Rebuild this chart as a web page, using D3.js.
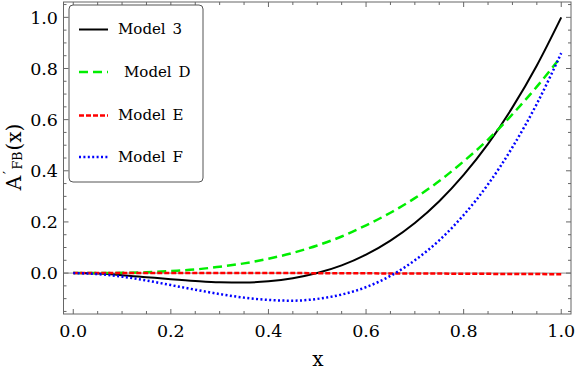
<!DOCTYPE html>
<html lang="en">
<head>
  <meta charset="UTF-8" />
  <title>A'FB(x) models</title>
  <script src="https://d3js.org/d3.v7.min.js"></script>
  <style>
    body { margin: 0; background: #fff; }
    svg text { font-family: "DejaVu Serif", serif; fill: #000; }
    .frame { fill: none; stroke: #666; stroke-width: 1; }
    .tick { stroke: #666; stroke-width: 1; }
    .curve { fill: none; }
  </style>
</head>
<body>
  <svg width="576" height="372"></svg>

  <script>
    const xs     = [0, 0.05, 0.1, 0.15, 0.2, 0.25, 0.3, 0.35, 0.4, 0.45, 0.5, 0.55, 0.6, 0.65, 0.7, 0.75, 0.8, 0.85, 0.9, 0.95, 1.0];
    const model3 = [0, -0.002, -0.008, -0.016, -0.024, -0.031, -0.036, -0.037, -0.032, -0.020, 0, 0.030, 0.072, 0.127, 0.196, 0.281, 0.384, 0.505, 0.648, 0.812, 1.0];
    const modelD = [0, 0.0001, 0.001, 0.003, 0.008, 0.014, 0.025, 0.038, 0.056, 0.079, 0.108, 0.143, 0.187, 0.236, 0.293, 0.360, 0.437, 0.522, 0.621, 0.729, 0.847];
    const modelE = [0, 0, 0, 0, 0, 0, 0, 0, 0, 0, -0.0005, -0.001, -0.001, -0.0015, -0.002, -0.002, -0.003, -0.003, -0.004, -0.004, -0.005];
    const modelF = [0, -0.004, -0.014, -0.029, -0.047, -0.065, -0.082, -0.096, -0.105, -0.108, -0.101, -0.084, -0.055, -0.011, 0.050, 0.128, 0.227, 0.347, 0.492, 0.662, 0.860];

    const xTicks = [0, 0.2, 0.4, 0.6, 0.8, 1.0];
    const yTicks = [0, 0.2, 0.4, 0.6, 0.8, 1.0];

    const series = [
      { name: "Model 3", values: model3, color: "#000000", width: 2,   dash: null },
      { name: "Model D", values: modelD, color: "#00ee00", width: 2.5, dash: "9,5" },
      { name: "Model E", values: modelE, color: "#ff0000", width: 2.5, dash: "5,2" },
      { name: "Model F", values: modelF, color: "#0000ff", width: 2.5, dash: "2,2.4" }
    ];

    const svg = d3.select("svg");
    const plot = { left: 63.5, right: 571, top: 2, bottom: 314 };

    const x = d3.scaleLinear().domain([-0.02, 1.02]).range([plot.left, plot.right]);
    const y = d3.scaleLinear().domain([-0.16, 1.06]).range([plot.bottom, plot.top]);

    // zero line
    svg.append("line")
      .attr("x1", plot.left).attr("x2", plot.right)
      .attr("y1", y(0)).attr("y2", y(0))
      .attr("stroke", "#888").attr("stroke-width", 1);

    // ticks on all four sides
    const xMinor = d3.range(0, 1.0001, 0.05);
    const yMinor = d3.range(-0.15, 1.0501, 0.05);
    const isMajor = v => Math.abs(v * 5 - Math.round(v * 5)) < 1e-6;
    const ticks = svg.append("g");
    xMinor.forEach(v => {
      const len = isMajor(v) ? 5 : 3;
      ticks.append("line").attr("class", "tick")
        .attr("x1", x(v)).attr("x2", x(v)).attr("y1", plot.bottom).attr("y2", plot.bottom - len);
      ticks.append("line").attr("class", "tick")
        .attr("x1", x(v)).attr("x2", x(v)).attr("y1", plot.top).attr("y2", plot.top + len);
    });
    yMinor.forEach(v => {
      const len = isMajor(v) ? 5 : 3;
      ticks.append("line").attr("class", "tick")
        .attr("x1", plot.left).attr("x2", plot.left + len).attr("y1", y(v)).attr("y2", y(v));
      ticks.append("line").attr("class", "tick")
        .attr("x1", plot.right).attr("x2", plot.right - len).attr("y1", y(v)).attr("y2", y(v));
    });

    // tick labels
    svg.append("g").selectAll("text")
      .data(xTicks)
      .join("text")
        .attr("x", d => x(d))
        .attr("y", 337)
        .attr("text-anchor", "middle")
        .style("font-size", "17.5px")
        .text(d => d3.format(".1f")(d));

    svg.append("g").selectAll("text")
      .data(yTicks)
      .join("text")
        .attr("x", 58)
        .attr("y", d => y(d))
        .attr("dy", "0.36em")
        .attr("text-anchor", "end")
        .style("font-size", "17.5px")
        .text(d => d3.format(".1f")(d));

    // curves
    const line = d3.line()
      .x((d, i) => x(xs[i]))
      .y(d => y(d))
      .curve(d3.curveMonotoneX);

    svg.append("g").selectAll("path")
      .data(series)
      .join("path")
        .attr("class", "curve")
        .attr("d", d => line(d.values))
        .attr("stroke", d => d.color)
        .attr("stroke-width", d => d.width)
        .attr("stroke-dasharray", d => d.dash);

    // frame
    svg.append("rect").attr("class", "frame")
      .attr("x", plot.left).attr("y", plot.top)
      .attr("width", plot.right - plot.left).attr("height", plot.bottom - plot.top);

    // axis titles
    svg.append("text")
      .attr("x", 318).attr("y", 366)
      .attr("text-anchor", "middle")
      .style("font-size", "20px")
      .text("x");

    const yl = svg.append("text")
      .attr("transform", "translate(21,157) rotate(-90)")
      .attr("text-anchor", "middle")
      .style("font-size", "20px");
    yl.append("tspan").text("A");
    yl.append("tspan").attr("dy", -8).attr("dx", 2).style("font-size", "13px").text("′");
    yl.append("tspan").attr("dy", 9).attr("dx", 1.5).style("font-size", "12.5px").text("FB");
    yl.append("tspan").attr("dy", -1).attr("dx", 1).text("(x)");

    // legend
    const legend = svg.append("g");
    legend.append("rect")
      .attr("x", 69).attr("y", 5)
      .attr("width", 134).attr("height", 177)
      .attr("rx", 4)
      .attr("fill", "#fff")
      .attr("stroke", "#555")
      .attr("stroke-width", 1);

    const rowY = [29.5, 72, 115.5, 157];
    const textX = [118, 124, 118, 118];
    series.forEach((s, i) => {
      legend.append("line")
        .attr("x1", 79).attr("x2", 108)
        .attr("y1", rowY[i]).attr("y2", rowY[i])
        .attr("stroke", s.color)
        .attr("stroke-width", s.width)
        .attr("stroke-dasharray", s.dash);
      legend.append("text")
        .attr("x", textX[i])
        .attr("y", rowY[i] + 4.5)
        .style("font-size", "15px")
        .style("word-spacing", "2px")
        .text(s.name);
    });
  </script>
</body>
</html>
